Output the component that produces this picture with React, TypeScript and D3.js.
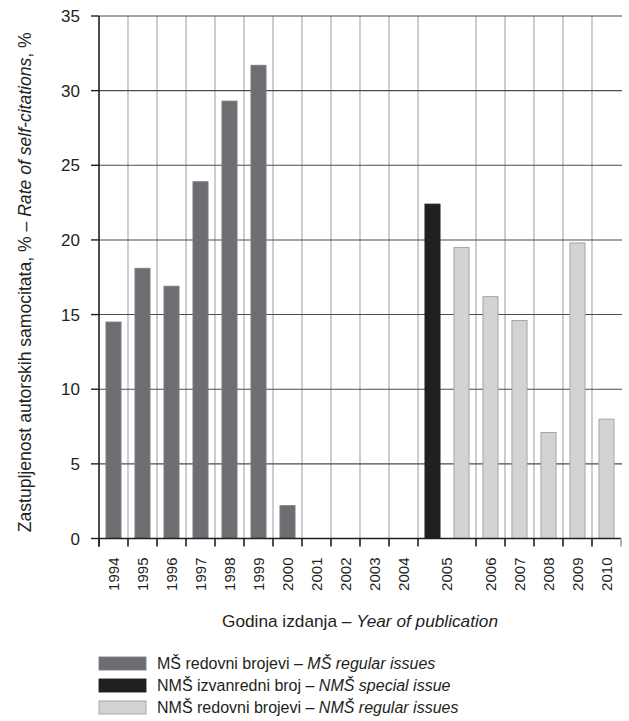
import * as d3 from 'd3';

// MŠ regular issues, 1994–2004
const msYears = ['1994', '1995', '1996', '1997', '1998', '1999', '2000', '2001', '2002', '2003', '2004'];
const msValues = [14.5, 18.1, 16.9, 23.9, 29.3, 31.7, 2.2, 0, 0, 0, 0];
// NMŠ special issue
const specialYears = ['2005'];
const specialValues = [22.4];
// NMŠ regular issues
const nmsYears = ['2005', '2006', '2007', '2008', '2009', '2010'];
const nmsValues = [19.5, 16.2, 14.6, 7.1, 19.8, 8.0];

const yTicks = [0, 5, 10, 15, 20, 25, 30, 35];

const legendPlain = ['MŠ redovni brojevi – ', 'NMŠ izvanredni broj – ', 'NMŠ redovni brojevi – '];
const legendItalic = ['MŠ regular issues', 'NMŠ special issue', 'NMŠ regular issues'];

const seriesColors = ['#6d6e71', '#231f20', '#d1d3d4'];
const seriesStrokes = ['#7c7d80', '#231f20', '#9d9fa2'];

const FONT = '"Liberation Sans", Arial, sans-serif';
const NARROW = '"Liberation Sans Narrow", "Liberation Sans", Arial, sans-serif';

const width = 629;
const height = 721;
const margins = { top: 16, right: 8, bottom: 182.5, left: 99 };

interface Bar {
  key: string;
  year: string;
  value: number;
  series: number;
}

const App = () => {
  const bars: Bar[] = [
    ...msYears.map((year, i) => ({ key: `ms-${year}`, year, value: msValues[i], series: 0 })),
    ...specialYears.map((year, i) => ({ key: `sp-${year}`, year, value: specialValues[i], series: 1 })),
    ...nmsYears.map((year, i) => ({ key: `nms-${year}`, year, value: nmsValues[i], series: 2 })),
  ];

  const xScale = d3
    .scaleBand<string>()
    .domain(bars.map(b => b.key))
    .range([margins.left, width - margins.right])
    .paddingInner(0)
    .paddingOuter(0);
  const yScale = d3
    .scaleLinear()
    .domain([0, 35])
    .range([height - margins.bottom, margins.top]);

  const bw = xScale.bandwidth();
  const barW = bw * 0.52;
  const y0 = yScale(0);

  // slot boundaries where the year changes
  const boundaries: number[] = [];
  bars.forEach((b, i) => {
    if (i === 0 || bars[i - 1].year !== b.year) boundaries.push(xScale(b.key)!);
  });
  boundaries.push(width - margins.right);

  const years = Array.from(new Set(bars.map(b => b.year)));
  const labelX = (year: string) =>
    d3.mean(bars.filter(b => b.year === year), b => (xScale(b.key) || 0) + bw / 2) || 0;

  return (
    <svg
      width={width}
      height={height}
      viewBox={`0 0 ${width} ${height}`}
      style={{ position: 'absolute', left: 0, top: 0, background: '#fff' }}
    >
      {/* vertical gridlines */}
      {boundaries.slice(1, -1).map((x, i) => (
        <line key={`vg-${i}`} x1={x} x2={x} y1={yScale(35)} y2={y0} stroke="#b1b3b6" strokeWidth={1.3} />
      ))}
      {/* horizontal gridlines */}
      {yTicks.slice(1).map(t => (
        <line
          key={`hg-${t}`}
          x1={margins.left}
          x2={width - margins.right + 1}
          y1={yScale(t)}
          y2={yScale(t)}
          stroke="#4d4d4f"
          strokeWidth={1.1}
        />
      ))}
      {/* bars */}
      {bars
        .filter(b => b.value > 0)
        .map(b => (
          <rect
            key={b.key}
            x={(xScale(b.key) || 0) + (bw - barW) / 2}
            y={yScale(b.value)}
            width={barW}
            height={y0 - yScale(b.value)}
            fill={seriesColors[b.series]}
            stroke={seriesStrokes[b.series]}
            strokeWidth={0.9}
          />
        ))}
      {/* y axis */}
      <line x1={margins.left} x2={margins.left} y1={yScale(35)} y2={y0 + 8} stroke="#231f20" strokeWidth={1.6} />
      {yTicks.map(t => (
        <g key={`yt-${t}`}>
          <line x1={margins.left - 8} x2={margins.left} y1={yScale(t)} y2={yScale(t)} stroke="#231f20" strokeWidth={1.4} />
          <text
            x={margins.left - 19}
            y={yScale(t)}
            dy="0.36em"
            textAnchor="end"
            fontFamily={NARROW}
            fontSize={17}
            fill="#231f20"
          >
            {t}
          </text>
        </g>
      ))}
      {/* x axis */}
      <line x1={margins.left} x2={width - margins.right} y1={y0} y2={y0} stroke="#231f20" strokeWidth={1.6} />
      {boundaries.map((x, i) => (
        <line
          key={`xt-${i}`}
          x1={x}
          x2={x}
          y1={y0}
          y2={y0 + 8}
          stroke={i === boundaries.length - 1 ? '#9d9fa2' : '#231f20'}
          strokeWidth={1.6}
        />
      ))}
      {years.map(year => (
        <text
          key={`xl-${year}`}
          transform={`translate(${labelX(year)}, ${y0 + 19}) rotate(-90)`}
          textAnchor="end"
          dy="0.36em"
          fontFamily={FONT}
          fontSize={15}
          fill="#231f20"
        >
          {year}
        </text>
      ))}
      {/* axis titles */}
      <text
        transform={`translate(31, ${(yScale(35) + y0) / 2 + 5}) rotate(-90)`}
        textAnchor="middle"
        fontFamily={FONT}
        fontSize={18}
        textLength={500}
        lengthAdjust="spacingAndGlyphs"
        fill="#231f20"
      >
        Zastupljenost autorskih samocitata, % – <tspan fontStyle="italic">Rate of self-citations</tspan>, %
      </text>
      <text
        x={360}
        y={627}
        textAnchor="middle"
        fontFamily={FONT}
        fontSize={17}
        textLength={276}
        lengthAdjust="spacingAndGlyphs"
        fill="#231f20"
      >
        Godina izdanja – <tspan fontStyle="italic">Year of publication</tspan>
      </text>
      {/* legend */}
      {legendPlain.map((label, i) => (
        <g key={`lg-${i}`} transform={`translate(99, ${657 + i * 22})`}>
          <rect
            x={0}
            y={0}
            width={47}
            height={13}
            fill={seriesColors[i]}
            stroke={seriesStrokes[i]}
            strokeWidth={0.9}
          />
          <text x={58} y={6.5} dy="0.36em" fontFamily={FONT} fontSize={16} fill="#231f20">
            {label}
            <tspan fontStyle="italic">{legendItalic[i]}</tspan>
          </text>
        </g>
      ))}
    </svg>
  );
};

export default App;
